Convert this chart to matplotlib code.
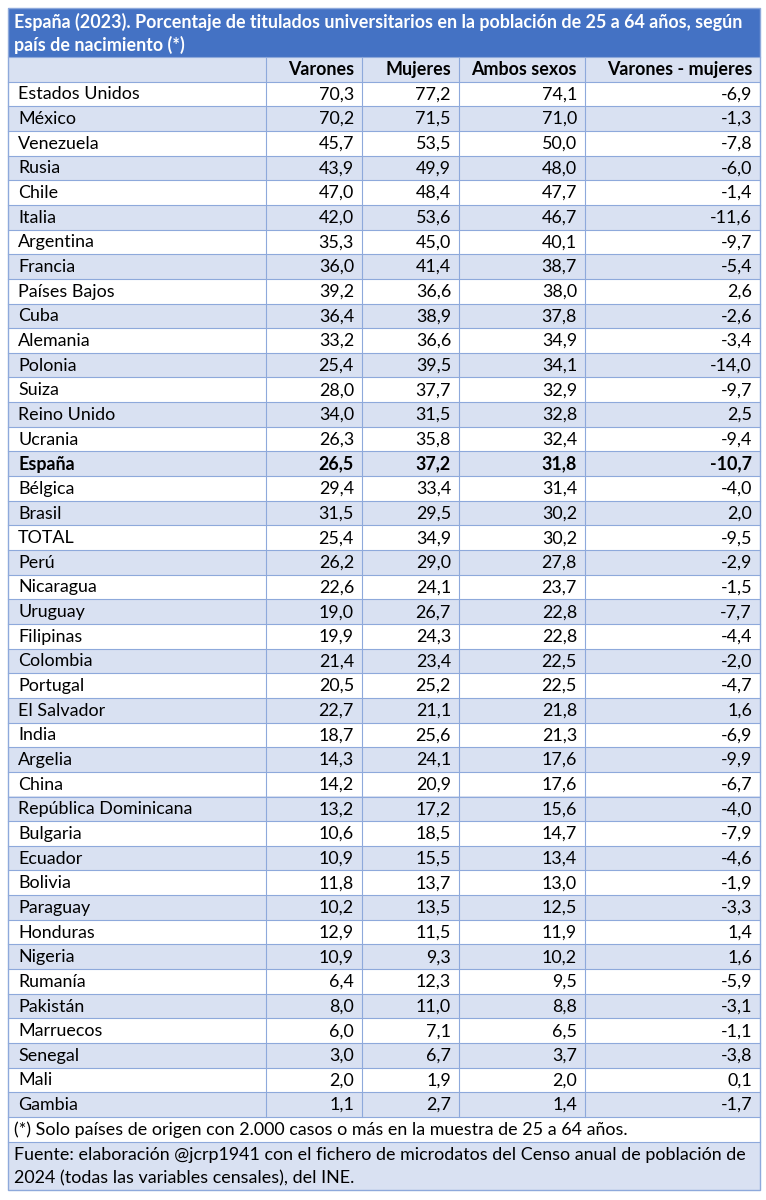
import matplotlib
matplotlib.use('Agg')
import matplotlib.pyplot as plt
import matplotlib.patches as patches

# Data
paises = ['Estados Unidos', 'México', 'Venezuela', 'Rusia', 'Chile', 'Italia', 'Argentina',
          'Francia', 'Países Bajos', 'Cuba', 'Alemania', 'Polonia', 'Suiza', 'Reino Unido',
          'Ucrania', 'España', 'Bélgica', 'Brasil', 'TOTAL', 'Perú', 'Nicaragua', 'Uruguay',
          'Filipinas', 'Colombia', 'Portugal', 'El Salvador', 'India', 'Argelia', 'China',
          'República Dominicana', 'Bulgaria', 'Ecuador', 'Bolivia', 'Paraguay', 'Honduras',
          'Nigeria', 'Rumanía', 'Pakistán', 'Marruecos', 'Senegal', 'Mali', 'Gambia']
varones = [70.3, 70.2, 45.7, 43.9, 47.0, 42.0, 35.3, 36.0, 39.2, 36.4, 33.2, 25.4, 28.0, 34.0,
           26.3, 26.5, 29.4, 31.5, 25.4, 26.2, 22.6, 19.0, 19.9, 21.4, 20.5, 22.7, 18.7, 14.3,
           14.2, 13.2, 10.6, 10.9, 11.8, 10.2, 12.9, 10.9, 6.4, 8.0, 6.0, 3.0, 2.0, 1.1]
mujeres = [77.2, 71.5, 53.5, 49.9, 48.4, 53.6, 45.0, 41.4, 36.6, 38.9, 36.6, 39.5, 37.7, 31.5,
           35.8, 37.2, 33.4, 29.5, 34.9, 29.0, 24.1, 26.7, 24.3, 23.4, 25.2, 21.1, 25.6, 24.1,
           20.9, 17.2, 18.5, 15.5, 13.7, 13.5, 11.5, 9.3, 12.3, 11.0, 7.1, 6.7, 1.9, 2.7]
ambos = [74.1, 71.0, 50.0, 48.0, 47.7, 46.7, 40.1, 38.7, 38.0, 37.8, 34.9, 34.1, 32.9, 32.8,
         32.4, 31.8, 31.4, 30.2, 30.2, 27.8, 23.7, 22.8, 22.8, 22.5, 22.5, 21.8, 21.3, 17.6,
         17.6, 15.6, 14.7, 13.4, 13.0, 12.5, 11.9, 10.2, 9.5, 8.8, 6.5, 3.7, 2.0, 1.4]
diferencia = [-6.9, -1.3, -7.8, -6.0, -1.4, -11.6, -9.7, -5.4, 2.6, -2.6, -3.4, -14.0, -9.7, 2.5,
              -9.4, -10.7, -4.0, 2.0, -9.5, -2.9, -1.5, -7.7, -4.4, -2.0, -4.7, 1.6, -6.9, -9.9,
              -6.7, -4.0, -7.9, -4.6, -1.9, -3.3, 1.4, 1.6, -5.9, -3.1, -1.1, -3.8, 0.1, -1.7]
columnas = ['Varones', 'Mujeres', 'Ambos sexos', 'Varones - mujeres']
titulo = 'España (2023). Porcentaje de titulados universitarios en la población de 25 a 64 años, según\npaís de nacimiento (*)'
nota = '(*) Solo países de origen con 2.000 casos o más en la muestra de 25 a 64 años.'
fuente = 'Fuente: elaboración @jcrp1941 con el fichero de microdatos del Censo anual de población de\n2024 (todas las variables censales), del INE.'
destacado = 'España'

# Layout (pixel coordinates)
W, H = 766, 1200
left, right = 8, 760
col_edges = [8, 266, 362, 459, 585, 760]
title_top, title_bot = 8, 57
header_top = 57
row_h = 24.65
first_row_top = header_top + row_h

blue = '#4472C4'
band = '#D9E1F2'
grid = '#8EA9DB'
font = 'Lato'
fs = 12.9

fig = plt.figure(figsize=(W / 100, H / 100), dpi=100)
ax = fig.add_axes([0, 0, 1, 1])
ax.set_xlim(0, W)
ax.set_ylim(H, 0)
ax.axis('off')

# Title band
ax.add_patch(patches.Rectangle((left, title_top), right - left, title_bot - title_top,
                               facecolor=blue, edgecolor=blue, lw=0))
ax.text(left + 6, (title_top + title_bot) / 2 + 1, titulo, color='white', fontsize=fs,
        fontweight='bold', family=font, ha='left', va='center', linespacing=1.35)

# Header row
ax.add_patch(patches.Rectangle((left, header_top), right - left, row_h,
                               facecolor=band, edgecolor='none'))
for j, name in enumerate(columnas):
    ax.text(col_edges[j + 2] - 8, header_top + row_h / 2 + 0.5, name, fontsize=fs,
            fontweight='bold', family=font, ha='right', va='center')

# Data rows
for i, pais in enumerate(paises):
    top = first_row_top + i * row_h
    color = 'white' if i % 2 == 0 else band
    ax.add_patch(patches.Rectangle((left, top), right - left, row_h,
                                   facecolor=color, edgecolor='none'))
    weight = 'bold' if pais == destacado else 'normal'
    yc = top + row_h / 2 + 0.5
    ax.text(left + 10, yc, pais, fontsize=fs, fontweight=weight, family=font,
            ha='left', va='center')
    vals = [varones[i], mujeres[i], ambos[i], diferencia[i]]
    for j, v in enumerate(vals):
        ax.text(col_edges[j + 2] - 8, yc, f'{v:.1f}'.replace('.', ','), fontsize=fs,
                fontweight=weight, family=font, ha='right', va='center')

table_bot = first_row_top + len(paises) * row_h

# Grid lines
for k in range(len(paises) + 2):
    y = header_top + k * row_h
    ax.plot([left, right], [y, y], color=grid, lw=0.8)
for x in col_edges[1:-1]:
    ax.plot([x, x], [header_top, table_bot], color=grid, lw=0.8)

# Footnote and source
note_bot = table_bot + row_h
ax.add_patch(patches.Rectangle((left, table_bot), right - left, row_h,
                               facecolor='white', edgecolor='none'))
ax.text(left + 6, table_bot + row_h / 2 + 0.5, nota, fontsize=fs, family=font,
        ha='left', va='center')
src_bot = 1190
ax.add_patch(patches.Rectangle((left, note_bot), right - left, src_bot - note_bot,
                               facecolor=band, edgecolor='none'))
ax.text(left + 6, (note_bot + src_bot) / 2 + 1, fuente, fontsize=fs, family=font,
        ha='left', va='center', linespacing=1.5)
ax.plot([left, right], [note_bot, note_bot], color=grid, lw=0.8)

# Outer border
ax.add_patch(patches.Rectangle((left, title_top), right - left, src_bot - title_top,
                               facecolor='none', edgecolor=grid, lw=1.0))

fig.savefig('out.png', dpi=100, facecolor='white')
